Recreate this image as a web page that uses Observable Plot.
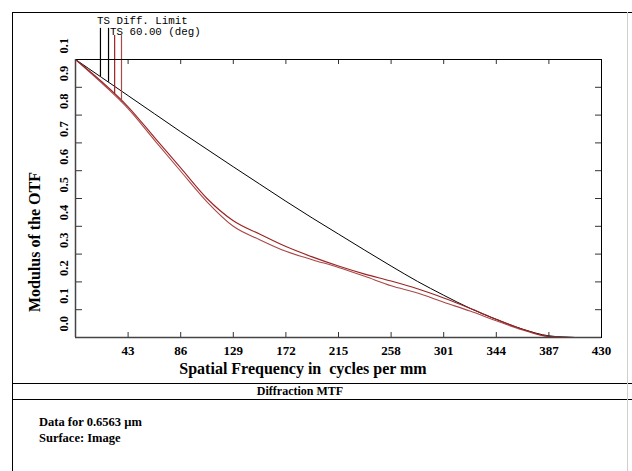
<!DOCTYPE html>
<html><head><meta charset="utf-8">
<script src="https://cdn.jsdelivr.net/npm/d3@7"></script>
<script src="https://cdn.jsdelivr.net/npm/@observablehq/plot@0.6"></script>
<style>
body{margin:0;background:#fff;}
#wrap{position:relative;width:632px;height:471px;overflow:hidden;font-family:"Liberation Serif",serif;background:#fff;}
#wrap svg{position:absolute;left:0;top:0;}
.t{position:absolute;white-space:pre;font-weight:bold;color:#000;line-height:1;}
.mono{position:absolute;white-space:pre;font-family:"Liberation Mono",monospace;font-size:10.8px;line-height:1;color:#000;}
.hl{position:absolute;height:1px;background:#000;}
.vl{position:absolute;width:1px;background:#000;}
</style></head><body><div id="wrap"></div>
<script>
// ---- data ----
const freq = [0, 21.5, 43, 64.5, 86, 107.5, 129, 150.5, 172, 193.5, 215, 236.5, 258, 279.5, 301, 322.5, 344, 365.5, 387, 408.5, 430];
const diffLimit = [1.0, 0.935, 0.87, 0.805, 0.74, 0.677, 0.614, 0.552, 0.49, 0.43, 0.372, 0.314, 0.257, 0.202, 0.152, 0.105, 0.065, 0.03, 0.006, 0.0, NaN];
const tsT = [1.0, 0.92, 0.83, 0.72, 0.61, 0.5, 0.42, 0.372, 0.327, 0.29, 0.257, 0.228, 0.203, 0.175, 0.142, 0.105, 0.066, 0.03, 0.004, 0, 0];
const tsS = [1.0, 0.915, 0.823, 0.71, 0.598, 0.488, 0.40, 0.352, 0.31, 0.28, 0.252, 0.22, 0.186, 0.16, 0.127, 0.095, 0.06, 0.027, 0.003, 0, 0];
const xTicks = [43, 86, 129, 172, 215, 258, 301, 344, 387, 430];
const yTicks = [0, 0.1, 0.2, 0.3, 0.4, 0.5, 0.6, 0.7, 0.8, 0.9, 1.0];
const yTickLabels = ["0.0", "0.1", "0.2", "0.3", "0.4", "0.5", "0.6", "0.7", "0.8", "0.9", "0.1"];
const legendLabels = ["TS Diff. Limit", "TS 60.00 (deg)"];
const legendDiffFreqs = [20.4, 27];
const legendTsFreqs = [32, 37.6];

// ---- layout / style ----
const W = 632, H = 471, mL = 75, mR = 31, mT = 59, mB = 134;
const frameW = W - mL - mR, frameH = H - mT - mB;
const colDiff = "#000", colT = "#9a2323", colS = "#a84848";

const rows = freq.map((f, i) => ({f, d: diffLimit[i], t: tsT[i], s: tsS[i]}));
const interp = (arr, x) => {
  for (let i = 1; i < freq.length; i++) {
    if (x <= freq[i]) { const a = (x - freq[i-1]) / (freq[i] - freq[i-1]); return arr[i-1] + a * (arr[i] - arr[i-1]); }
  }
  return arr[arr.length - 1];
};
const legendRows = [
  ...legendDiffFreqs.map(f => ({f, y1: interp(diffLimit, f), y2: 1.112, c: colDiff})),
  {f: legendTsFreqs[0], y1: interp(tsT, legendTsFreqs[0]), y2: 1.086, c: colT},
  {f: legendTsFreqs[1], y1: interp(tsS, legendTsFreqs[1]), y2: 1.086, c: colS}
];

const chart = Plot.plot({
  width: W, height: H,
  marginLeft: mL, marginRight: mR, marginTop: mT, marginBottom: mB,
  x: {domain: [0, 430], axis: null},
  y: {domain: [0, 1], axis: null},
  style: {background: "transparent", fontFamily: "'Liberation Serif', serif", overflow: "visible"},
  marks: [
    Plot.line(rows, {x: "f", y: "d", stroke: colDiff, strokeWidth: 1, curve: "monotone-x"}),
    Plot.line(rows, {x: "f", y: "s", stroke: colS, strokeWidth: 1.1, curve: "monotone-x"}),
    Plot.line(rows, {x: "f", y: "t", stroke: colT, strokeWidth: 1.1, curve: "monotone-x"}),
    Plot.ruleX(legendRows, {x: "f", y1: "y1", y2: "y2", stroke: "c", strokeWidth: 1.2}),
    Plot.tickX(xTicks, {x: d => d, insetTop: frameH - 5, stroke: "#333"}),
    Plot.tickX(xTicks, {x: d => d, insetBottom: frameH - 5, stroke: "#333"}),
    Plot.tickY(yTicks, {y: d => d, insetRight: frameW - 7, stroke: "#333"}),
    Plot.tickY(yTicks, {y: d => d, insetLeft: frameW - 6, stroke: "#333"}),
    Plot.frame({stroke: "#000", strokeWidth: 1}),
    Plot.ruleY([0], {stroke: "#444", strokeWidth: 1.5}),
    Plot.ruleX([0], {stroke: "#444", strokeWidth: 1.5}),
    Plot.axisX(xTicks, {anchor: "bottom", tickSize: 0, tickPadding: 8, fontWeight: "bold", fontSize: 13, label: null, tickFormat: d => String(d)}),
    Plot.text(yTicks, {y: d => d, text: (d, i) => yTickLabels[i], frameAnchor: "left", dx: -12, dy: -6, rotate: -90, fontWeight: "bold", fontSize: 12.5})
  ]
});
const wrap = document.getElementById("wrap");
wrap.appendChild(chart);

function add(cls, css, text) {
  const el = document.createElement("div");
  el.className = cls; el.style.cssText = css;
  if (text != null) el.textContent = text;
  wrap.appendChild(el); return el;
}
// frame lines
add("hl", "left:12px;top:12px;width:620px;");
add("vl", "left:12px;top:12px;height:459px;");
add("hl", "left:12px;top:383px;width:620px;");
add("hl", "left:12px;top:399px;width:620px;");
add("vl", "left:627px;top:12px;height:459px;background:#cfcfcf;");
// texts
add("mono", "left:97px;top:16px;", legendLabels[0]);
add("mono", "left:110px;top:27px;", legendLabels[1]);
add("t", "left:303px;top:369px;font-size:16px;transform:translate(-50%,-50%);", "Spatial Frequency in  cycles per mm");
add("t", "left:35px;top:242px;font-size:16px;transform:translate(-50%,-50%) rotate(-90deg);", "Modulus of the OTF");
add("t", "left:300px;top:391px;font-size:12px;transform:translate(-50%,-50%);", "Diffraction MTF");
add("t", "left:39px;top:416px;font-size:12.5px;", "Data for 0.6563 µm");
add("t", "left:39px;top:432px;font-size:12.5px;", "Surface: Image");
</script></body></html>
